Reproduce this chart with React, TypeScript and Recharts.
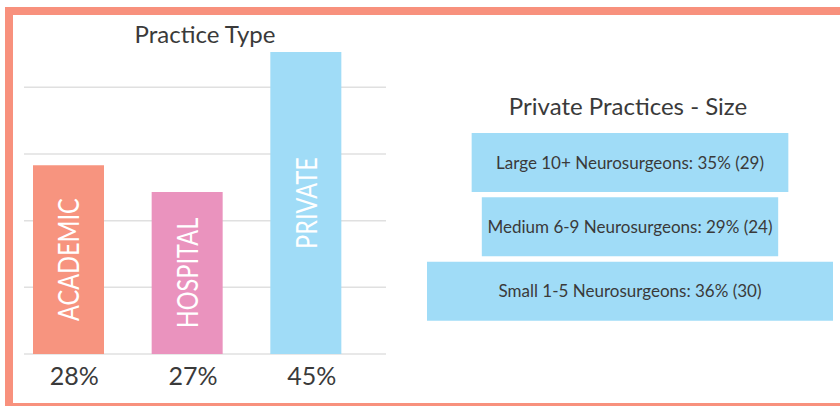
import React from 'react';
import { BarChart, Bar, XAxis, YAxis, CartesianGrid, Cell, LabelList } from 'recharts';

// Practice type (left panel)
const practiceTypes = ['ACADEMIC', 'HOSPITAL', 'PRIVATE'];
const practiceShares = ['28%', '27%', '45%'];
const practiceBarHeights = [28.3, 24.3, 45.3];
const practiceColors = ['#F7947F', '#EA93BE', '#A0DCF7'];
const practiceGridTicks = [0, 10, 20, 30, 40];

// Private practice size (right panel)
const sizeLabels = [
  'Large 10+ Neurosurgeons: 35% (29)',
  'Medium 6-9 Neurosurgeons: 29% (24)',
  'Small 1-5 Neurosurgeons: 36% (30)',
];
const sizeBarWidths = [78, 73, 100];

const FONT = 'Lato, "Open Sans", sans-serif';
const TEXT = '#3a3a3a';

const practiceData = practiceTypes.map((name, i) => ({
  name,
  share: practiceShares[i],
  value: practiceBarHeights[i],
}));

const sizeData = sizeLabels.map((label, i) => ({
  label,
  width: sizeBarWidths[i],
}));

const VerticalLabel = (props: any) => {
  const { x, y, width, height, value } = props;
  const cx = Number(x) + Number(width) / 2;
  const cy = Number(y) + Number(height) / 2;
  return (
    <g transform={`translate(${cx},${cy}) rotate(-90) scale(0.84,1)`}>
      <text
        x={0}
        y={0}
        textAnchor="middle"
        dominantBaseline="central"
        fill="#ffffff"
        fontSize={28}
        fontFamily={FONT}
      >
        {value}
      </text>
    </g>
  );
};

export default function App() {
  return (
    <div
      style={{
        position: 'absolute',
        left: 0,
        top: 0,
        width: 840,
        height: 407,
        background: '#fff',
        overflow: 'hidden',
        fontFamily: FONT,
      }}
    >
      {/* frame */}
      <div
        style={{
          position: 'absolute',
          left: 5,
          top: 7,
          width: 860,
          height: 388,
          borderTop: '8px solid #F8917D',
          borderLeft: '8px solid #F8917D',
          borderBottom: '3px solid #F8917D',
        }}
      />

      <svg
        width={840}
        height={407}
        style={{ position: 'absolute', left: 0, top: 0, pointerEvents: 'none' }}
      >
        <text x={205} y={43} textAnchor="middle" fontSize={24} fill={TEXT} fontFamily={FONT}>
          Practice Type
        </text>
        <text x={628} y={115} textAnchor="middle" fontSize={24} fill={TEXT} fontFamily={FONT}>
          Private Practices - Size
        </text>
      </svg>

      <div style={{ position: 'absolute', left: 0, top: 0 }}>
        <BarChart
          width={400}
          height={407}
          data={practiceData}
          margin={{ top: 52, right: 14, left: 24, bottom: 13 }}
          barCategoryGap={0}
        >
          <CartesianGrid
            vertical={false}
            stroke="#e0e0e0"
            strokeWidth={1.5}
            horizontalValues={practiceGridTicks}
          />
          <YAxis hide domain={[0, 45.3]} ticks={practiceGridTicks} />
          <XAxis
            dataKey="share"
            axisLine={false}
            tickLine={false}
            tickSize={0}
            tickMargin={13}
            height={40}
            padding={{ left: -15, right: 21 }}
            tick={{ fill: TEXT, fontSize: 25, fontFamily: FONT, dx: 6 }}
            interval={0}
          />
          <Bar dataKey="value" barSize={71} isAnimationActive={false}>
            {practiceData.map((d, i) => (
              <Cell key={d.name} fill={practiceColors[i]} />
            ))}
            <LabelList dataKey="name" content={VerticalLabel} />
          </Bar>
        </BarChart>
      </div>

      <div style={{ position: 'absolute', left: 420, top: 0 }}>
        <BarChart
          layout="vertical"
          width={420}
          height={407}
          data={sizeData}
          margin={{ top: 130, right: 7, left: 7, bottom: 84 }}
        >
          <XAxis type="number" hide domain={[-50, 50]} />
          <YAxis type="category" dataKey="label" hide />
          <Bar
            dataKey={(d: any) => [-d.width / 2, d.width / 2]}
            fill="#A0DCF7"
            barSize={59}
            isAnimationActive={false}
          >
            <LabelList
              dataKey="label"
              position="center"
              fill={TEXT}
              fontSize={17}
              fontFamily={FONT}
            />
          </Bar>
        </BarChart>
      </div>
    </div>
  );
}
